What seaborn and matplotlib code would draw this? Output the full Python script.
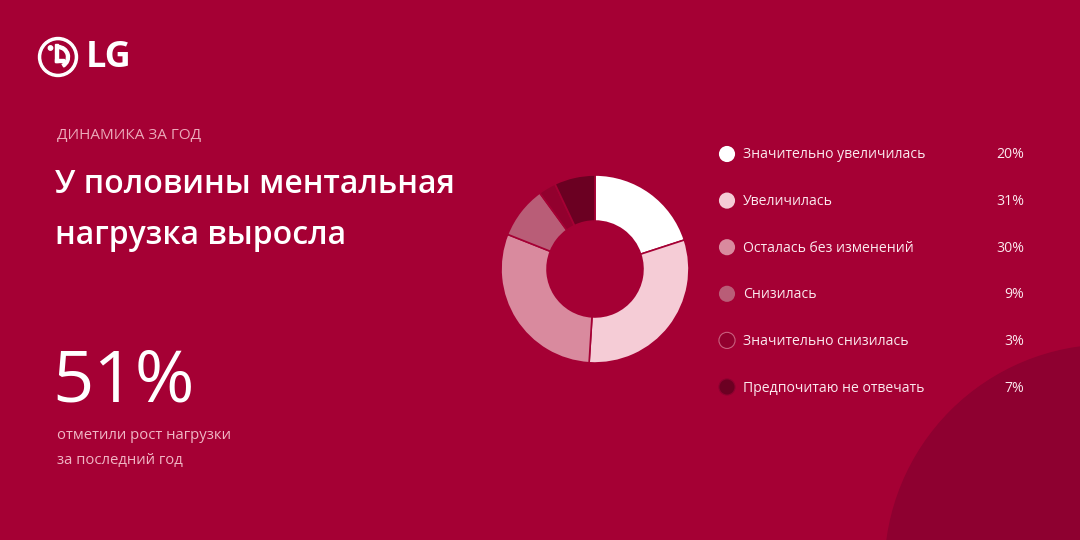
import matplotlib
matplotlib.use("Agg")
import matplotlib.pyplot as plt
from matplotlib.patches import Circle, Wedge, Rectangle
import seaborn as sns
import pandas as pd

# ---- data ----
categories = ["Значительно увеличилась", "Увеличилась", "Осталась без изменений",
              "Снизилась", "Значительно снизилась", "Предпочитаю не отвечать"]
values = [20, 31, 30, 9, 3, 7]
value_labels = ["20%", "31%", "30%", "9%", "3%", "7%"]
colors = ["#FFFFFF", "#F5CCD6", "#D98A9E", "#B95D77", "#92002E", "#6B0022"]
kicker = "ДИНАМИКА ЗА ГОД"
title_lines = ["У половины ментальная", "нагрузка выросла"]
big_number = "51%"
big_caption = ["отметили рост нагрузки", "за последний год"]

BG = "#A50034"
DECOR = "#8E0030"

sns.set_theme(style="white")
plt.rcParams["font.family"] = ["Open Sans", "DejaVu Sans"]

W, H = 1080, 540
fig = plt.figure(figsize=(W / 100, H / 100), dpi=100, facecolor=BG)

# background axes in pixel coordinates (origin top-left)
bg = fig.add_axes([0, 0, 1, 1])
bg.set_facecolor(BG)
bg.add_patch(Rectangle((0, 0), W, H, color=BG, zorder=0))
bg.add_patch(Circle((1110, 570), 225, color=DECOR, zorder=1))

# LG logo
bg.add_patch(Circle((58, 57), 19.5, color="white", zorder=3))
bg.add_patch(Circle((58, 57), 16.0, color=BG, zorder=4))
bg.add_patch(Wedge((58, 57), 11.5, -90, 60, width=3.0, color="white", zorder=5))
bg.add_patch(Rectangle((54.5, 44), 3.0, 18, color="white", zorder=5))
bg.add_patch(Rectangle((54.5, 59), 9, 3.0, color="white", zorder=5))
bg.add_patch(Circle((50.5, 48), 2.2, color="white", zorder=5))
bg.text(86, 58, "LG", color="white", fontsize=26, fontweight="bold",
        va="center", ha="left", zorder=5)

# texts
bg.text(57, 135, kicker, color="#EBA9B9", fontsize=11, va="center", ha="left")
bg.text(55, 193, title_lines[0], color="white", fontsize=23, fontweight="semibold",
        va="baseline", ha="left")
bg.text(55, 244, title_lines[1], color="white", fontsize=23, fontweight="semibold",
        va="baseline", ha="left")
bg.text(52, 402, big_number, color="white", fontsize=52, va="baseline", ha="left")
bg.text(57, 439, big_caption[0], color="#F0B6C4", fontsize=10.7, va="baseline", ha="left")
bg.text(57, 464, big_caption[1], color="#F0B6C4", fontsize=10.7, va="baseline", ha="left")

# legend
row_y = [154, 200.6, 247.2, 293.8, 340.4, 387]
leg = pd.DataFrame({"x": [727] * len(categories), "y": row_y, "cat": categories})
edge = ["none", "none", "none", "none", "#C9607E", "#8E0030"]
sns.scatterplot(data=leg, x="x", y="y", hue="cat", palette=colors, s=135,
                edgecolor=edge, linewidth=0.8, legend=False, ax=bg, zorder=6)
for y, c, v in zip(row_y, categories, value_labels):
    bg.text(743, y + 1, c, color="#FBE9EE", fontsize=10.1, va="center", ha="left")
    bg.text(1024, y + 1, v, color="#FBE9EE", fontsize=10.1, va="center", ha="right")
bg.set_xlim(0, W)
bg.set_ylim(H, 0)
bg.axis("off")

# donut
cx, cy, r = 595, 269, 94
ax = fig.add_axes([(cx - r) / W, (H - cy - r) / H, 2 * r / W, 2 * r / H])
ax.pie(values, colors=colors, startangle=90, counterclock=False, radius=1,
       wedgeprops=dict(width=0.49, edgecolor=BG, linewidth=1.2))
ax.set_xlim(-1, 1)
ax.set_ylim(-1, 1)
ax.set_aspect("equal")
ax.axis("off")

fig.savefig("out.png", dpi=100, facecolor=BG)
